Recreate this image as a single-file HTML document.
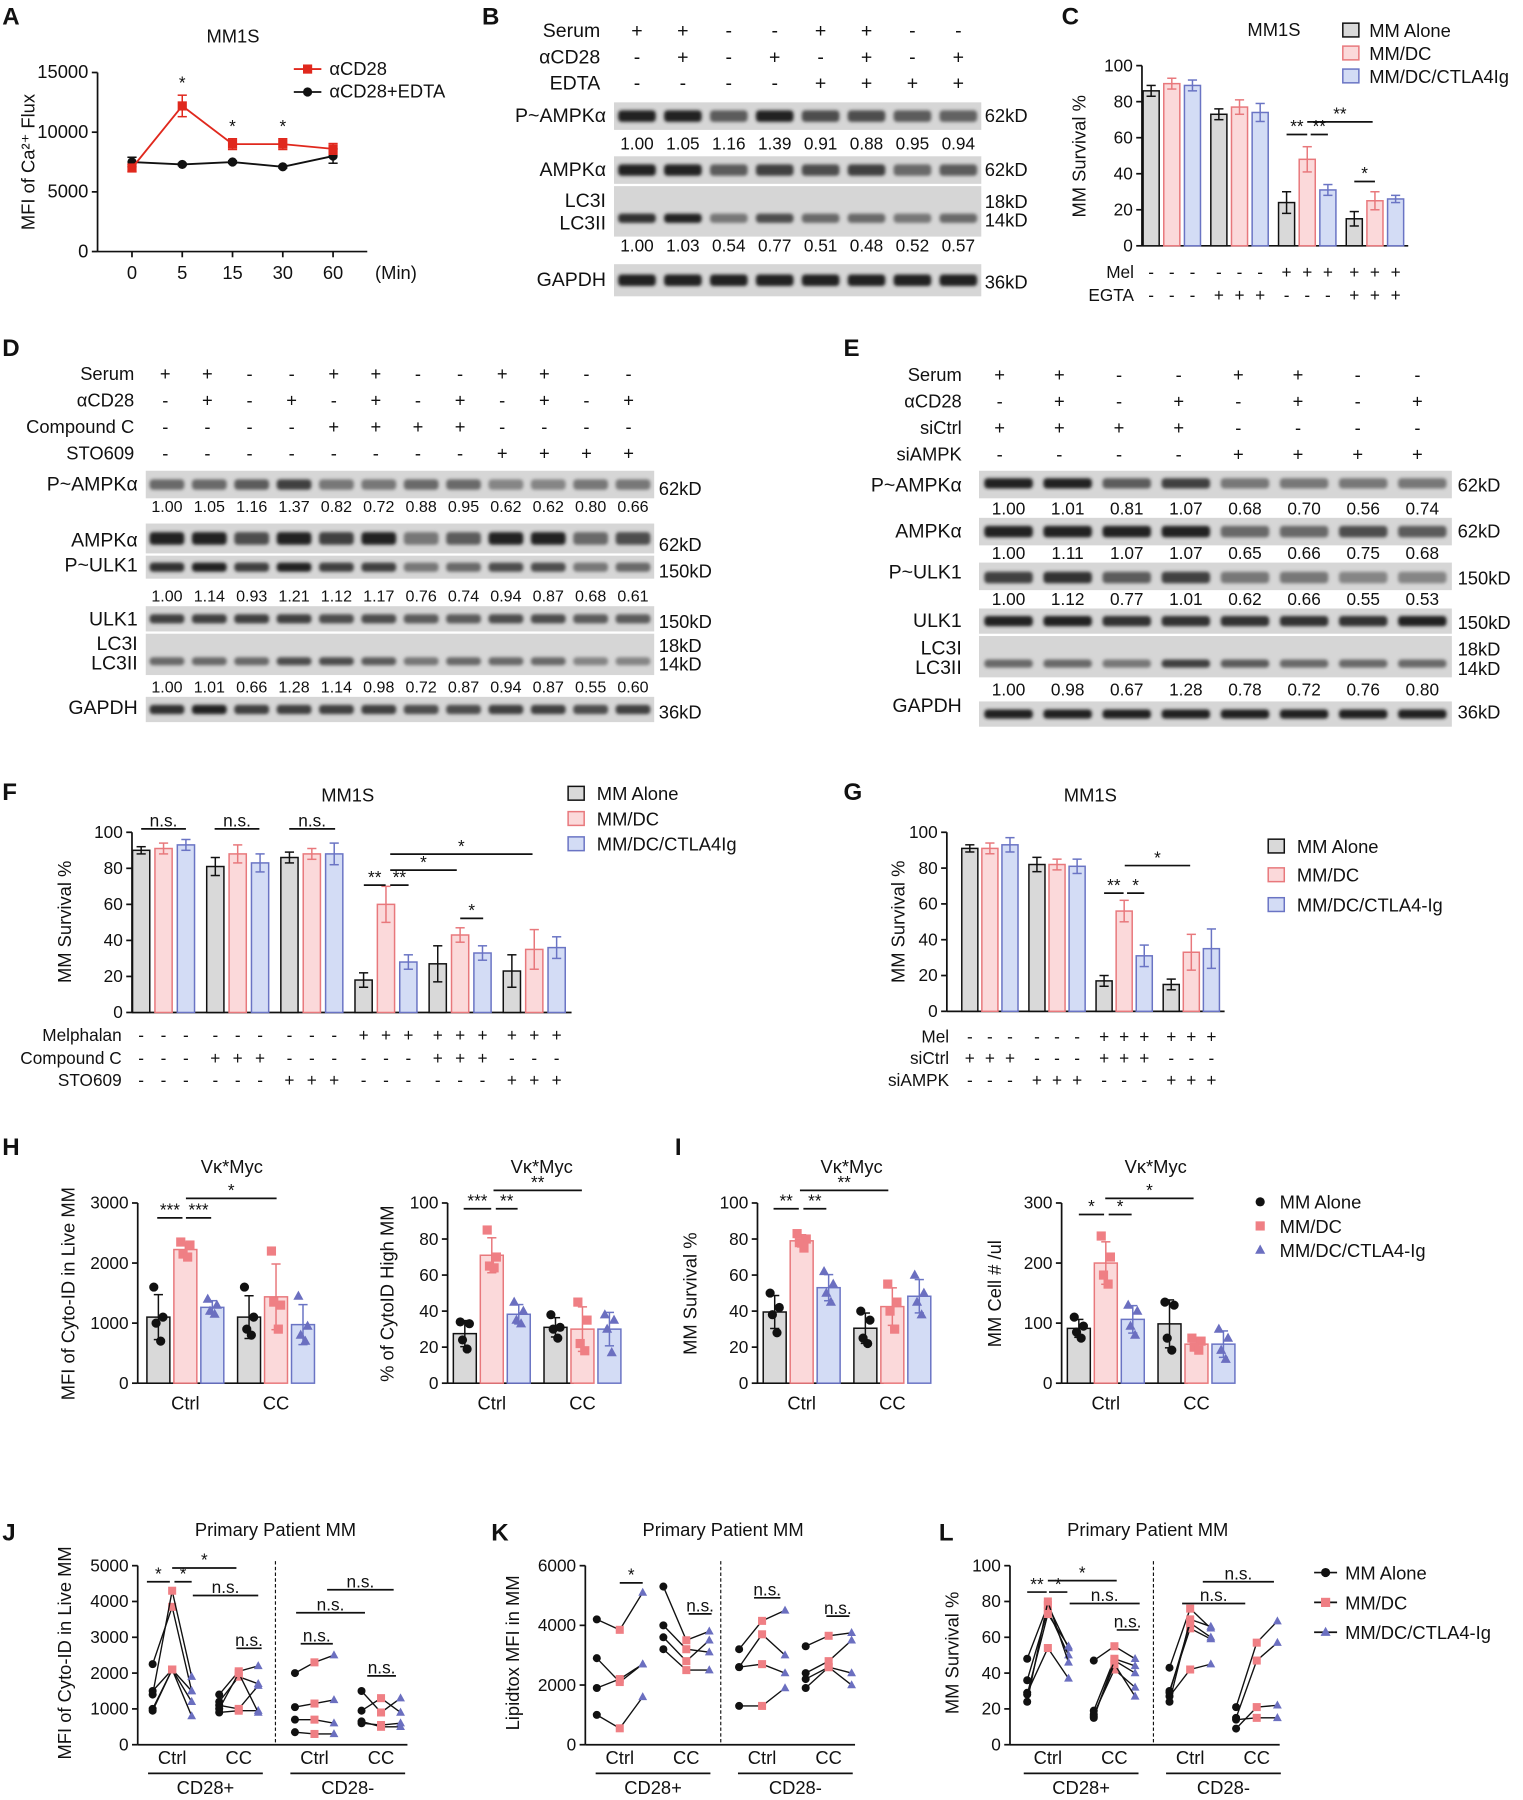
<!DOCTYPE html>
<html><head><meta charset="utf-8"><style>
html,body{margin:0;padding:0;background:#fff;}
svg{display:block;font-family:"Liberation Sans",Arial,sans-serif;}
</style></head><body>
<svg id="fig" width="1523" height="1800" viewBox="0 0 1327 1568" xmlns="http://www.w3.org/2000/svg">
<defs><filter id="blur" x="-20%" y="-50%" width="140%" height="200%"><feGaussianBlur stdDeviation="1.4"/></filter></defs>
</svg>
<script>
// ---------- DATA ----------
const aTimes=['0','5','15','30','60'];
const aCD28=[7000,12200,9000,9000,8600];
const aCD28Err=[300,900,450,450,450];
const aEDTA=[7500,7300,7500,7100,8000];
const aEDTAErr=[400,100,100,100,600];
const aTicks=[0,5000,10000,15000];

const bSerum=['+','+','-','-','+','+','-','-'];
const bCD28=['-','+','-','+','-','+','-','+'];
const bEDTA=['-','-','-','-','+','+','+','+'];
const bPAMPK=['1.00','1.05','1.16','1.39','0.91','0.88','0.95','0.94'];
const bLC3=['1.00','1.03','0.54','0.77','0.51','0.48','0.52','0.57'];

const cMel=['-','-','-','-','-','-','+','+','+','+','+','+'];
const cEGTA=['-','-','-','+','+','+','-','-','-','+','+','+'];
const cAlone=[86,73,24,15];
const cDC=[90,77,48,25];
const cCTLA=[89,74,31,26];
const cErr=[[3,3,6,4],[3,4,7,5],[3,5,3,2]];

const dSerum=['+','+','-','-','+','+','-','-','+','+','-','-'];
const dCD28=['-','+','-','+','-','+','-','+','-','+','-','+'];
const dCC=['-','-','-','-','+','+','+','+','-','-','-','-'];
const dSTO=['-','-','-','-','-','-','-','-','+','+','+','+'];
const dPAMPK=['1.00','1.05','1.16','1.37','0.82','0.72','0.88','0.95','0.62','0.62','0.80','0.66'];
const dPULK=['1.00','1.14','0.93','1.21','1.12','1.17','0.76','0.74','0.94','0.87','0.68','0.61'];
const dLC3=['1.00','1.01','0.66','1.28','1.14','0.98','0.72','0.87','0.94','0.87','0.55','0.60'];

const eSerum=['+','+','-','-','+','+','-','-'];
const eCD28=['-','+','-','+','-','+','-','+'];
const eSiCtrl=['+','+','+','+','-','-','-','-'];
const eSiAMPK=['-','-','-','-','+','+','+','+'];
const ePAMPK=['1.00','1.01','0.81','1.07','0.68','0.70','0.56','0.74'];
const eAMPK=['1.00','1.11','1.07','1.07','0.65','0.66','0.75','0.68'];
const ePULK=['1.00','1.12','0.77','1.01','0.62','0.66','0.55','0.53'];
const eLC3=['1.00','0.98','0.67','1.28','0.78','0.72','0.76','0.80'];

const fMel=['-','-','-','-','-','-','-','-','-','+','+','+','+','+','+','+','+','+'];
const fCC=['-','-','-','+','+','+','-','-','-','-','-','-','+','+','+','-','-','-'];
const fSTO=['-','-','-','-','-','-','+','+','+','-','-','-','-','-','-','+','+','+'];
const fAlone=[90,81,86,18,27,23];
const fDC=[91,88,88,60,43,35];
const fCTLA=[93,83,88,28,33,36];
const fErr=[[2,5,3,4,10,9],[3,5,3,10,4,11],[3,5,6,4,4,6]];

const gMel=['-','-','-','-','-','-','+','+','+','+','+','+'];
const gSiCtrl=['+','+','+','-','-','-','+','+','+','-','-','-'];
const gSiAMPK=['-','-','-','+','+','+','-','-','-','+','+','+'];
const gAlone=[91,82,17,15];
const gDC=[91,82,56,33];
const gCTLA=[93,81,31,35];
const gErr=[[2,4,3,3],[3,3,6,10],[4,4,6,11]];

const groupsCC=['Ctrl','CC'];
const h1Pts=[[[1600,1100,1000,700],[2350,2300,2150,2100],[1400,1300,1200,1150]],[[1600,1100,900,800],[2200,1300,1350,900],[1450,950,800,700]]];
const h2Pts=[[[34,33,24,19],[85,70,65,64],[45,40,35,33]],[[38,31,30,25],[45,35,22,18],[38,35,30,17]]];
const i1Pts=[[[50,42,38,28],[83,80,78,75],[62,55,50,45]],[[40,35,25,22],[55,45,40,30],[60,50,45,38]]];
const i2Pts=[[[110,95,85,75],[245,210,180,165],[130,120,95,80]],[[135,130,75,55],[75,70,60,55],[90,75,55,40]]];

const jAlone=[[2250,1500,1400,1000,950],[1400,1200,1100,900,1000],[2000,1050,700,350],[1500,950,650,600]];
const jDC=[[3850,2100,4300,2100,2100],[2050,1900,1000,950,2000],[2300,1150,700,300],[900,1300,500,550]];
const jCTLA=[[1500,1200,1900,800,1500],[2200,1700,1650,950,900],[2500,1250,600,300],[1300,900,500,600]];
const kAlone=[[4200,2900,1900,1000],[5300,4000,3600,3200],[3200,2600,2600,1300],[3300,2400,2200,1900]];
const kDC=[[3850,2100,2200,550],[3500,3200,2800,2500],[4150,3700,2700,1300],[3650,2800,2600,2600]];
const kCTLA=[[5100,2700,2700,1600],[3800,3100,3500,2500],[4500,3000,2400,1900],[3750,3500,2400,2000]];
const lAlone=[[48,36,29,24,28],[47,19,17,16,15],[43,30,27,24,29],[21,15,9,14]];
const lDC=[[78,75,54,80,73],[55,48,42,45,47],[76,65,42,70,68],[57,47,21,15]];
const lCTLA=[[54,50,37,46,55],[48,44,32,27,40],[65,59,45,66,60],[69,57,22,15]];
const pairCats=['Ctrl','CC','Ctrl','CC'];

// ---------- HELPERS ----------
const NS='http://www.w3.org/2000/svg';
const svg=document.getElementById('fig');
function mk(tag,attrs,parent){const e=document.createElementNS(NS,tag);for(const k in attrs)e.setAttribute(k,attrs[k]);(parent||svg).appendChild(e);return e;}
function txt(x,y,s,size,name,anchor,extra){
  const t=mk('text',Object.assign({x:x,y:y,'font-size':size,'text-anchor':anchor||'middle',fill:'#111'},extra||{}));
  t.textContent=s;
  
  
  return t;}
function line(x1,y1,x2,y2,name,stroke,w,extra){
  const l=mk('line',Object.assign({x1:x1,y1:y1,x2:x2,y2:y2,stroke:stroke||'#111','stroke-width':w||1.5},extra||{}));
  
  
  return l;}
const COL={alone:['#d9d9d9','#111'],dc:['#fbd9da','#e8787c'],ctla:['#d3dcf5','#6a74c4']};
function panel(x,y,s){txt(x,y,s,21,'panel-label-'+s.toLowerCase(),'start',{'font-weight':'bold'});}
function marker(kind,x,y,r,name){
  let e;
  if(kind==='alone'){e=mk('circle',{cx:x,cy:y,r:r,fill:'#111'});}
  else if(kind==='dc'){e=mk('rect',{x:x-r,y:y-r,width:2*r,height:2*r,fill:'#ef7f84'});}
  else {e=mk('polygon',{points:(x)+','+(y-r*1.2)+' '+(x-r*1.1)+','+(y+r*0.8)+' '+(x+r*1.1)+','+(y+r*0.8),fill:'#6b6fc0'});}
  
  
  return e;}
function yAxis(ax,name){
  line(ax.x,ax.y0,ax.x,ax.yTop,name+'-y-axis');
  line(ax.x,ax.y0,ax.xEnd,ax.y0,name+'-x-axis');
  ax.ticks.forEach(t=>{const yy=ax.sy(t);line(ax.x-5,yy,ax.x,yy,name+'-y-tick');txt(ax.x-8,yy+5,String(t),ax.fs||15,name+'-y-tick-label','end');});}
function mkAxis(x,y0,yTop,max,xEnd,ticks,fs){return {x:x,y0:y0,yTop:yTop,xEnd:xEnd,ticks:ticks,fs:fs,sy:v=>y0-(v/max)*(y0-yTop)};}
function bars(ax,start,gGap,bGap,bw,series,errs,name){
  const kinds=['alone','dc','ctla'];
  series.forEach((vals,m)=>vals.forEach((v,g)=>{
    const cx=start+g*gGap+m*bGap,yy=ax.sy(v);
    const r=mk('rect',{x:cx-bw/2,y:yy,width:bw,height:ax.y0-yy,fill:COL[kinds[m]][0],stroke:COL[kinds[m]][1],'stroke-width':1.3});
    
    
    if(errs){const e=errs[m][g],c=COL[kinds[m]][1];
      line(cx,ax.sy(v-e),cx,ax.sy(v+e),name+'-error-bar',c,1.3);
      line(cx-4,ax.sy(v+e),cx+4,ax.sy(v+e),name+'-error-cap',c,1.3);
      line(cx-4,ax.sy(v-e),cx+4,ax.sy(v-e),name+'-error-cap',c,1.3);}
  }));}
function dotBars(ax,start,gGap,bGap,bw,pts,name){
  const kinds=['alone','dc','ctla'];
  pts.forEach((grp,g)=>grp.forEach((vals,m)=>{
    const cx=start+g*gGap+m*bGap;
    const mean=vals.reduce((a,b)=>a+b,0)/vals.length;
    const sd=Math.sqrt(vals.reduce((a,b)=>a+(b-mean)*(b-mean),0)/(vals.length-1));
    const yy=ax.sy(mean);
    const r=mk('rect',{x:cx-bw/2,y:yy,width:bw,height:ax.y0-yy,fill:COL[kinds[m]][0],stroke:COL[kinds[m]][1],'stroke-width':1.3});
    
    
    const c=COL[kinds[m]][1];
    line(cx,ax.sy(mean-sd),cx,ax.sy(mean+sd),name+'-error-bar',c,1.3);
    line(cx-4,ax.sy(mean+sd),cx+4,ax.sy(mean+sd),name+'-error-cap',c,1.3);
    line(cx-4,ax.sy(mean-sd),cx+4,ax.sy(mean-sd),name+'-error-cap',c,1.3);
    vals.forEach((v,i)=>marker(kinds[m],cx+(i%2?4:-4)*(i>1?0.5:1),ax.sy(v),4,name+'-point-'+kinds[m]));
  }));}
function signRow(label,signs,xl,y,start,gap,name,fs){
  txt(xl,y,label,fs||16,name+'-label','end');
  signs.forEach((s,i)=>txt(start+i*gap,y,s,fs||16,name+'-sign','middle'));}
function signRowG(label,signs,xl,y,start,gGap,bGap,name,fs){
  txt(xl,y,label,fs||16,name+'-label','end');
  signs.forEach((s,i)=>txt(start+Math.floor(i/3)*gGap+(i%3)*bGap,y,s,fs||16,name+'-sign','middle'));}
function blot(x,y,w,h,n,intens,name,bandY,bandH){
  const g=mk('g',{});
  
  
  mk('rect',{x:x,y:y,width:w,height:h,fill:'#d6d6d6'},g);
  intens.forEach((v,i)=>{const cx=x+(i+0.5)*w/n;const lw=w/n*0.82;
    const shade=Math.max(15,Math.round(175-140*v));
    mk('rect',{x:cx-lw/2,y:y+(bandY||h/2)-(bandH||8)/2,width:lw,height:bandH||8,rx:3,fill:'rgb('+shade+','+shade+','+shade+')',filter:'url(#blur)'},g);});
  return g;}
function nums(vals,x,w,y,name,fs){vals.forEach((s,i)=>txt(x+(i+0.5)*w/vals.length,y,s,fs||15,name,'middle'));}
function sig(x1,x2,y,s,name){line(x1,y,x2,y,name+'-line');txt((x1+x2)/2,y-2,s,15,name+'-label','middle');}

// ---------- PANEL A ----------
panel(2,21,'A');
txt(203,37,'MM1S',16,'a-title');
const axA=mkAxis(85,219,63,15000,320,aTicks,16);
yAxis(axA,'a');
txt(30,141,'MFI of Ca²⁺ Flux',16,'a-y-axis-title','middle',{transform:'rotate(-90 30 141)'});
const sxA=i=>115+i*43.8;
aTimes.forEach((t,i)=>{line(sxA(i),219,sxA(i),224,'a-x-tick');txt(sxA(i),243,t,16,'a-x-tick-label');});
txt(345,243,'(Min)',16,'a-x-unit');
[[aEDTA,aEDTAErr,'#111','edta'],[aCD28,aCD28Err,'#e0281d','cd28']].forEach(([vals,err,c,nm])=>{
  const pl=mk('polyline',{points:vals.map((v,i)=>sxA(i)+','+axA.sy(v)).join(' '),fill:'none',stroke:c,'stroke-width':1.6});
  
  
  vals.forEach((v,i)=>{line(sxA(i),axA.sy(v-err[i]),sxA(i),axA.sy(v+err[i]),'a-error-bar',c,1.3);
    line(sxA(i)-4,axA.sy(v+err[i]),sxA(i)+4,axA.sy(v+err[i]),'a-error-cap',c,1.3);
    line(sxA(i)-4,axA.sy(v-err[i]),sxA(i)+4,axA.sy(v-err[i]),'a-error-cap',c,1.3);
    if(nm==='cd28'){const r=mk('rect',{x:sxA(i)-4,y:axA.sy(v)-4,width:8,height:8,fill:c});}
    else{const cc=mk('circle',{cx:sxA(i),cy:axA.sy(v),r:4,fill:c});}});
});
[1,2,3].forEach(i=>txt(sxA(i),axA.sy(aCD28[i]+aCD28Err[i])-6,'*',15,'a-significance'));
line(256,60,280,60,'a-legend-line-cd28','#e0281d',1.6);mk('rect',{x:264,y:56,width:8,height:8,fill:'#e0281d'});
txt(287,65,'αCD28',16,'a-legend-label','start');
line(256,80,280,80,'a-legend-line-edta','#111',1.6);mk('circle',{cx:268,cy:80,r:4,fill:'#111'});
txt(287,85,'αCD28+EDTA',16,'a-legend-label','start');

// ---------- PANEL B ----------
panel(420,21,'B');
const bx=535,bw8=320;
signRow('Serum',bSerum,523,32,bx+20,40,'b-serum',17);
signRow('αCD28',bCD28,523,55,bx+20,40,'b-acd28',17);
signRow('EDTA',bEDTA,523,78,bx+20,40,'b-edta',17);
blot(bx,89,bw8,24,8,[1,1,0.6,1,0.7,0.7,0.6,0.55],'b-blot-pampk',12,10);
txt(528,106,'P~AMPKα',17,'b-row-label','end');txt(858,106,'62kD',16,'b-kd','start');
nums(bPAMPK,bx,bw8,130,'b-pampk-value');
blot(bx,136,bw8,24,8,[1,1,0.6,0.8,0.7,0.8,0.5,0.6],'b-blot-ampk',12,10);
txt(528,153,'AMPKα',17,'b-row-label','end');txt(858,153,'62kD',16,'b-kd','start');
blot(bx,162,bw8,44,8,[0.9,1,0.4,0.7,0.5,0.5,0.4,0.5],'b-blot-lc3',28,8);
txt(528,180,'LC3I',17,'b-row-label','end');txt(528,200,'LC3II',17,'b-row-label','end');
txt(858,181,'18kD',16,'b-kd','start');txt(858,197,'14kD',16,'b-kd','start');
nums(bLC3,bx,bw8,219,'b-lc3-value');
blot(bx,230,bw8,28,8,[1,1,1,1,1,1,1,1],'b-blot-gapdh',14,10);
txt(528,249,'GAPDH',17,'b-row-label','end');txt(858,251,'36kD',16,'b-kd','start');

// ---------- PANEL C ----------
panel(925,21,'C');
txt(1110,31,'MM1S',16,'c-title');
const axC=mkAxis(995,214,57,100,1227,[0,20,40,60,80,100],15);
yAxis(axC,'c');
txt(946,136,'MM Survival %',16,'c-y-axis-title','middle',{transform:'rotate(-90 946 136)'});
bars(axC,1003,59,18,14,[cAlone,cDC,cCTLA],cErr,'c');
sig(1121,1139,117,'**','c-sig');sig(1142,1157,117,'**','c-sig');sig(1139,1196,106,'**','c-sig');sig(1180,1198,158,'*','c-sig');
signRowG('Mel',cMel,988,242,1003,59,18,'c-mel',15);
signRowG('EGTA',cEGTA,988,262,1003,59,18,'c-egta',15);
[['alone',32],['dc',52],['ctla',72]].forEach(([k,y],i)=>{const r=mk('rect',{x:1170,y:y-12,width:14,height:12,fill:COL[k][0],stroke:COL[k][1],'stroke-width':1.3});
  txt(1193,y,['MM Alone','MM/DC','MM/DC/CTLA4Ig'][i],16,'c-legend-label','start');});

// ---------- PANEL D ----------
panel(2,310,'D');
const dx=127,dw=443;
signRow('Serum',dSerum,117,331,dx+17,36.7,'d-serum');
signRow('αCD28',dCD28,117,354,dx+17,36.7,'d-acd28');
signRow('Compound C',dCC,117,377,dx+17,36.7,'d-compoundc');
signRow('STO609',dSTO,117,400,dx+17,36.7,'d-sto609');
blot(dx,410,dw,24,12,[0.5,0.5,0.6,0.8,0.4,0.4,0.5,0.5,0.3,0.3,0.4,0.4],'d-blot-pampk',12,9);
txt(120,427,'P~AMPKα',17,'d-row-label','end');txt(574,431,'62kD',16,'d-kd','start');
nums(dPAMPK,dx,dw,446,'d-pampk-value',14);
blot(dx,456,dw,26,12,[1,1,0.7,1,0.8,1,0.4,0.6,1,1,0.5,0.7],'d-blot-ampk',13,11);
txt(120,476,'AMPKα',17,'d-row-label','end');txt(574,480,'62kD',16,'d-kd','start');
blot(dx,484,dw,20,12,[0.9,1,0.8,1,0.8,0.8,0.4,0.5,0.7,0.7,0.4,0.5],'d-blot-pulk',10,8);
txt(120,498,'P~ULK1',17,'d-row-label','end');txt(574,503,'150kD',16,'d-kd','start');
nums(dPULK,dx,dw,524,'d-pulk-value',14);
blot(dx,528,dw,22,12,[0.8,0.8,0.8,0.8,0.7,0.7,0.6,0.6,0.7,0.7,0.6,0.6],'d-blot-ulk1',11,8);
txt(120,545,'ULK1',17,'d-row-label','end');txt(574,547,'150kD',16,'d-kd','start');
blot(dx,552,dw,36,12,[0.5,0.5,0.5,0.7,0.7,0.6,0.4,0.5,0.5,0.5,0.3,0.3],'d-blot-lc3',24,7);
txt(120,566,'LC3I',17,'d-row-label','end');txt(120,583,'LC3II',17,'d-row-label','end');
txt(574,568,'18kD',16,'d-kd','start');txt(574,584,'14kD',16,'d-kd','start');
nums(dLC3,dx,dw,603,'d-lc3-value',14);
blot(dx,607,dw,22,12,[0.9,1,0.8,0.8,0.8,0.8,0.7,0.7,0.8,0.8,0.7,0.8],'d-blot-gapdh',11,8);
txt(120,622,'GAPDH',17,'d-row-label','end');txt(574,626,'36kD',16,'d-kd','start');

// ---------- PANEL E ----------
panel(735,310,'E');
const ex=853,ew=412;
signRow('Serum',eSerum,838,332,ex+18,52,'e-serum');
signRow('αCD28',eCD28,838,355,ex+18,52,'e-acd28');
signRow('siCtrl',eSiCtrl,838,378,ex+18,52,'e-sictrl');
signRow('siAMPK',eSiAMPK,838,401,ex+18,52,'e-siampk');
blot(ex,410,ew,24,8,[1,1,0.6,0.8,0.4,0.4,0.4,0.4],'e-blot-pampk',11,9);
txt(838,428,'P~AMPKα',17,'e-row-label','end');txt(1270,428,'62kD',16,'e-kd','start');
nums(ePAMPK,ex,ew,448,'e-pampk-value');
blot(ex,451,ew,24,8,[1,1,1,1,0.5,0.5,0.7,0.6],'e-blot-ampk',12,10);
txt(838,468,'AMPKα',17,'e-row-label','end');txt(1270,468,'62kD',16,'e-kd','start');
nums(eAMPK,ex,ew,487,'e-ampk-value');
blot(ex,490,ew,24,8,[0.8,0.9,0.6,0.8,0.4,0.4,0.3,0.3],'e-blot-pulk',13,10);
txt(838,504,'P~ULK1',17,'e-row-label','end');txt(1270,509,'150kD',16,'e-kd','start');
nums(ePULK,ex,ew,527,'e-pulk-value');
blot(ex,530,ew,22,8,[1,1,0.9,0.9,0.9,0.9,0.9,1],'e-blot-ulk1',11,9);
txt(838,546,'ULK1',17,'e-row-label','end');txt(1270,548,'150kD',16,'e-kd','start');
blot(ex,554,ew,36,8,[0.5,0.5,0.4,0.8,0.6,0.5,0.5,0.5],'e-blot-lc3',24,7);
txt(838,570,'LC3I',17,'e-row-label','end');txt(838,587,'LC3II',17,'e-row-label','end');
txt(1270,571,'18kD',16,'e-kd','start');txt(1270,588,'14kD',16,'e-kd','start');
nums(eLC3,ex,ew,606,'e-lc3-value');
blot(ex,611,ew,22,8,[1,1,1,1,1,1,1,1],'e-blot-gapdh',11,8);
txt(838,620,'GAPDH',17,'e-row-label','end');txt(1270,626,'36kD',16,'e-kd','start');

// ---------- PANEL F ----------
panel(2,697,'F');
txt(303,698,'MM1S',16,'f-title');
const axF=mkAxis(115,882,725,100,498,[0,20,40,60,80,100],15);
yAxis(axF,'f');
txt(62,803,'MM Survival %',16,'f-y-axis-title','middle',{transform:'rotate(-90 62 803)'});
bars(axF,123,64.6,19.5,15,[fAlone,fDC,fCTLA],fErr,'f');
sig(123,162,722,'n.s.','f-sig');sig(187,226,722,'n.s.','f-sig');sig(252,292,722,'n.s.','f-sig');
sig(317,336,771,'**','f-sig');sig(340,356,771,'**','f-sig');sig(340,398,758,'*','f-sig');sig(340,464,744,'*','f-sig');sig(401,421,800,'*','f-sig');
signRowG('Melphalan',fMel,106,907,123,64.6,19.5,'f-melphalan',15);
signRowG('Compound C',fCC,106,927,123,64.6,19.5,'f-compoundc',15);
signRowG('STO609',fSTO,106,946,123,64.6,19.5,'f-sto609',15);
[['alone',697],['dc',719],['ctla',741]].forEach(([k,y],i)=>{const r=mk('rect',{x:495,y:y-12,width:14,height:12,fill:COL[k][0],stroke:COL[k][1],'stroke-width':1.3});
  txt(520,y,['MM Alone','MM/DC','MM/DC/CTLA4Ig'][i],16,'f-legend-label','start');});

// ---------- PANEL G ----------
panel(735,697,'G');
txt(950,698,'MM1S',16,'g-title');
const axG=mkAxis(825,881,725,100,1067,[0,20,40,60,80,100],15);
yAxis(axG,'g');
txt(788,803,'MM Survival %',16,'g-y-axis-title','middle',{transform:'rotate(-90 788 803)'});
bars(axG,845,58.5,17.5,14,[gAlone,gDC,gCTLA],gErr,'g');
sig(962,979,778,'**','g-sig');sig(982,997,778,'*','g-sig');sig(980,1037,754,'*','g-sig');
signRowG('Mel',gMel,827,908,845,58.5,17.5,'g-mel',15);
signRowG('siCtrl',gSiCtrl,827,927,845,58.5,17.5,'g-sictrl',15);
signRowG('siAMPK',gSiAMPK,827,946,845,58.5,17.5,'g-siampk',15);
[['alone',743],['dc',768],['ctla',794]].forEach(([k,y],i)=>{const r=mk('rect',{x:1105,y:y-12,width:14,height:12,fill:COL[k][0],stroke:COL[k][1],'stroke-width':1.3});
  txt(1130,y,['MM Alone','MM/DC','MM/DC/CTLA4-Ig'][i],16,'g-legend-label','start');});

// ---------- PANELS H, I ----------
panel(2,1006,'H');panel(588,1006,'I');
function dotPanel(x,start,max,ticks,pts,title,ylab,tx,name){
  const ax=mkAxis(x,1205,1048,max,x+110,ticks,15);
  yAxis(ax,name);
  txt(x+82,1022,title,16,name+'-title');
  txt(tx,1127,ylab,16,name+'-y-axis-title','middle',{transform:'rotate(-90 '+tx+' 1127)'});
  dotBars(ax,start,79,23.5,20,pts,name);
  groupsCC.forEach((c,g)=>txt(start+23.5+g*79,1228,c,16,name+'-x-label'));
  return ax;}
dotPanel(120,138,3000,[0,1000,2000,3000],h1Pts,'Vκ*Myc','MFI of Cyto-ID in Live MM',65,'h1');
sig(137,159,1061,'***','h1-sig');sig(162,184,1061,'***','h1-sig');sig(162,241,1044,'*','h1-sig');
dotPanel(390,405,100,[0,20,40,60,80,100],h2Pts,'Vκ*Myc','% of CytoID High MM',343,'h2');
sig(404,428,1053,'***','h2-sig');sig(432,451,1053,'**','h2-sig');sig(430,507,1037,'**','h2-sig');
dotPanel(660,675,100,[0,20,40,60,80,100],i1Pts,'Vκ*Myc','MM Survival %',607,'i1');
sig(674,696,1053,'**','i1-sig');sig(700,720,1053,'**','i1-sig');sig(697,774,1037,'**','i1-sig');
dotPanel(925,940,300,[0,100,200,300],i2Pts,'Vκ*Myc','MM Cell # /ul',872,'i2');
sig(940,962,1058,'*','i2-sig');sig(966,986,1058,'*','i2-sig');sig(963,1040,1044,'*','i2-sig');
['MM Alone','MM/DC','MM/DC/CTLA4-Ig'].forEach((s,i)=>{marker(['alone','dc','ctla'][i],1098,1047+i*21,4,'hi-legend-marker');txt(1115,1053+i*21,s,16,'hi-legend-label','start');});

// ---------- PANELS J, K, L ----------
function pairPanel(x,max,ticks,alone,dc,ctla,start,gGap,pGap,sepX,title,ylab,tx,name){
  const ax=mkAxis(x,1520,1364,max,x+235,ticks,15);
  yAxis(ax,name);
  txt(x+120,1338,title,16,name+'-title');
  txt(tx,1440,ylab,16,name+'-y-axis-title','middle',{transform:'rotate(-90 '+tx+' 1440)'});
  line(sepX,1360,sepX,1520,name+'-separator','#111',1,{'stroke-dasharray':'3,2'});
  alone.forEach((grp,g)=>{const gx=start+g*gGap+(g>1?8:0);
    grp.forEach((v,p)=>{
      const pts=[[gx,ax.sy(v)],[gx+pGap,ax.sy(dc[g][p])],[gx+2*pGap,ax.sy(ctla[g][p])]];
      const pl=mk('polyline',{points:pts.map(q=>q.join(',')).join(' '),fill:'none',stroke:'#111','stroke-width':1.2});
      
      
      marker('alone',pts[0][0],pts[0][1],3.5,name+'-point-alone');
      marker('dc',pts[1][0],pts[1][1],3.5,name+'-point-dc');
      marker('ctla',pts[2][0],pts[2][1],3.5,name+'-point-ctla');});
    txt(gx+pGap,1537,pairCats[g],16,name+'-x-label');});
  const m1=start+pGap+gGap/2, m2=start+2*gGap+8+pGap+gGap/2;
  line(m1-50,1545,m1+50,1545,name+'-group-underline');line(m2-50,1545,m2+50,1545,name+'-group-underline');
  txt(m1,1563,'CD28+',16,name+'-group-label');txt(m2,1563,'CD28-',16,name+'-group-label');
  return ax;}
panel(2,1342,'J');panel(428,1342,'K');panel(818,1342,'L');
pairPanel(120,5000,[0,1000,2000,3000,4000,5000],jAlone,jDC,jCTLA,133,58,17,240,'Primary Patient MM','MFI of Cyto-ID in Live MM',62,'j');
sig(128,148,1378,'*','j-sig');sig(152,167,1378,'*','j-sig');sig(150,206,1366,'*','j-sig');sig(168,225,1390,'n.s.','j-sig');sig(206,228,1436,'n.s.','j-sig');
sig(262,290,1432,'n.s.','j-sig');sig(258,318,1405,'n.s.','j-sig');sig(285,343,1385,'n.s.','j-sig');sig(320,345,1460,'n.s.','j-sig');
pairPanel(510,6000,[0,2000,4000,6000],kAlone,kDC,kCTLA,520,58,20,628,'Primary Patient MM','Lipidtox MFI in MM',452,'k');
sig(540,560,1379,'*','k-sig');sig(600,620,1406,'n.s.','k-sig');sig(657,680,1392,'n.s.','k-sig');sig(720,740,1408,'n.s.','k-sig');
pairPanel(880,100,[0,20,40,60,80,100],lAlone,lDC,lCTLA,895,58,18,1005,'Primary Patient MM','MM Survival %',835,'l');
sig(895,912,1387,'**','l-sig');sig(914,930,1387,'*','l-sig');sig(913,973,1377,'*','l-sig');sig(932,993,1397,'n.s.','l-sig');sig(973,992,1420,'n.s.','l-sig');
sig(1030,1085,1397,'n.s.','l-sig');sig(1048,1110,1378,'n.s.','l-sig');
['MM Alone','MM/DC','MM/DC/CTLA4-Ig'].forEach((s,i)=>{line(1145,1370+i*26,1165,1370+i*26,'l-legend-line');marker(['alone','dc','ctla'][i],1155,1370+i*26,4,'l-legend-marker');txt(1172,1376+i*26,s,16,'l-legend-label','start');});
</script>
</body></html>
